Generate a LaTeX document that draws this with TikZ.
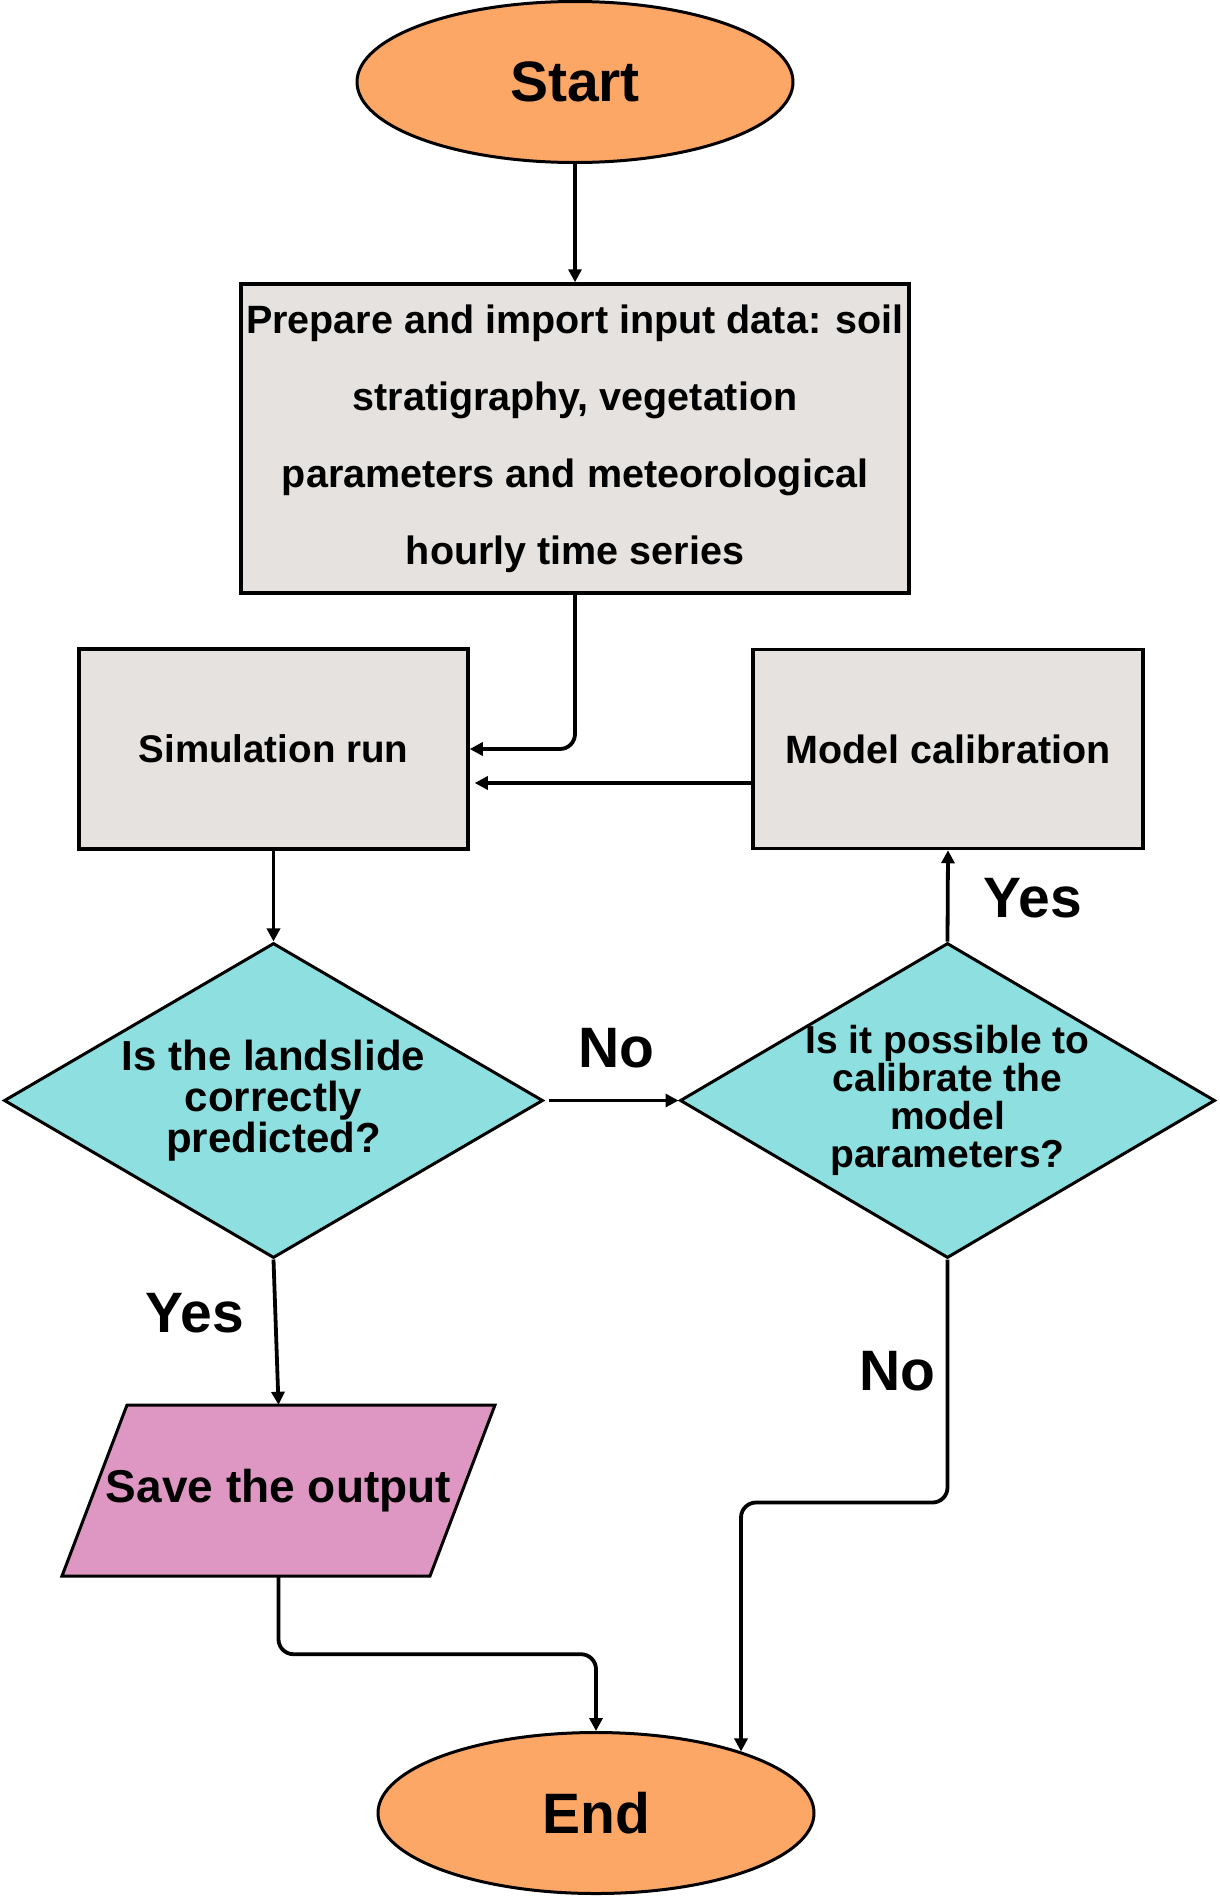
\documentclass[tikz,border=0pt]{standalone}
\usepackage{fontspec}
\setmainfont{Liberation Sans}
\usepackage{tikz}
\usepackage{xcolor}
\usetikzlibrary{arrows.meta, shapes.geometric, positioning}

\definecolor{termorange}{HTML}{FDA766}
\definecolor{boxgray}{HTML}{E5E2DF}
\definecolor{askcyan}{HTML}{8EE0E0}
\definecolor{savepink}{HTML}{DE97C3}

\tikzset{
    terminal/.style={ellipse, draw, line width=3pt, fill=termorange, minimum width=436pt, minimum height=161pt, inner sep=0pt, font=\fontsize{57}{60}\selectfont\bfseries},
    process/.style={rectangle, draw, line width=3.5pt, fill=boxgray, inner sep=0pt, align=center},
    decision/.style={diamond, draw, line width=3pt, fill=askcyan, inner sep=-6pt, shape aspect=1.7, align=center},
    answer/.style={font=\fontsize{57}{60}\selectfont\bfseries},
    flow/.style={line width=3.8pt, -{Triangle[length=13pt,width=13pt]}, rounded corners=15pt}
}

\begin{document}
\begin{tikzpicture}[x=1pt, y=-1pt]
                        \useasboundingbox (0, 0) rectangle (1219, 1898);
                        \node[terminal] (start) at (575, 82) {Start};
                        \node[process, minimum width=668pt, minimum height=309pt, font=\fontsize{39.5}{77}\selectfont\bfseries] (prep) at (575, 438.5) {Prepare and import input data: soil\\stratigraphy, vegetation\\parameters and meteorological\\hourly time series};
                        \node[process, minimum width=389pt, minimum height=200pt, font=\fontsize{38.5}{40}\selectfont\bfseries] (sim) at (273.5, 749) {Simulation run};
                        \node[process, minimum width=390pt, minimum height=199pt, font=\fontsize{39.5}{40}\selectfont\bfseries] (cal) at (948, 749) {Model calibration};
                        \node[decision, minimum width=539pt, minimum height=315pt, font=\fontsize{42}{41}\selectfont\bfseries] (landslide) at (273.5, 1100.5) {Is the landslide\\correctly\\predicted?};
                        \node[decision, minimum width=535pt, minimum height=315pt, font=\fontsize{39}{38}\selectfont\bfseries] (possible) at (947.5, 1100.5) {Is it possible to\\calibrate the\\model\\parameters?};
                        \draw[line width=3pt, fill=savepink] (127, 1405) -- (495, 1405) -- (430, 1576) -- (62, 1576) -- cycle;
                        \node[minimum height=171pt, inner sep=0pt, font=\fontsize{46}{48}\selectfont\bfseries] (save) at (278.5, 1490.5) {Save the output};
                        \node[terminal] (end) at (596, 1813) {End};
                        \node[answer] (no1) at (616, 1048) {No};
                        \node[answer] (yes1) at (1033, 898) {Yes};
                        \node[answer] (yes2) at (195, 1313) {Yes};
                        \node[answer] (no2) at (897, 1371) {No};
                        \draw[flow] (start) -- (prep);
                        \draw[flow] (prep.south) |- (sim.east);
                        \draw[flow] ([yshift=-34pt]cal.west) -- ([xshift=5pt, yshift=-34pt]sim.east);
                        \draw[flow] (sim) -- (landslide);
                        \draw[flow] ([xshift=4pt]landslide.east) -- (possible.west);
                        \draw[flow] (possible.north) -- (cal.south);
                        \draw[flow] (landslide.south) -- (save.north);
                        \draw[flow] (save.south) -- ++(0, 78) -| (end.north);
                        \draw[flow] (possible.south) -- ++(0, 243) -| (end.23);
                    \end{tikzpicture}
\end{document}
